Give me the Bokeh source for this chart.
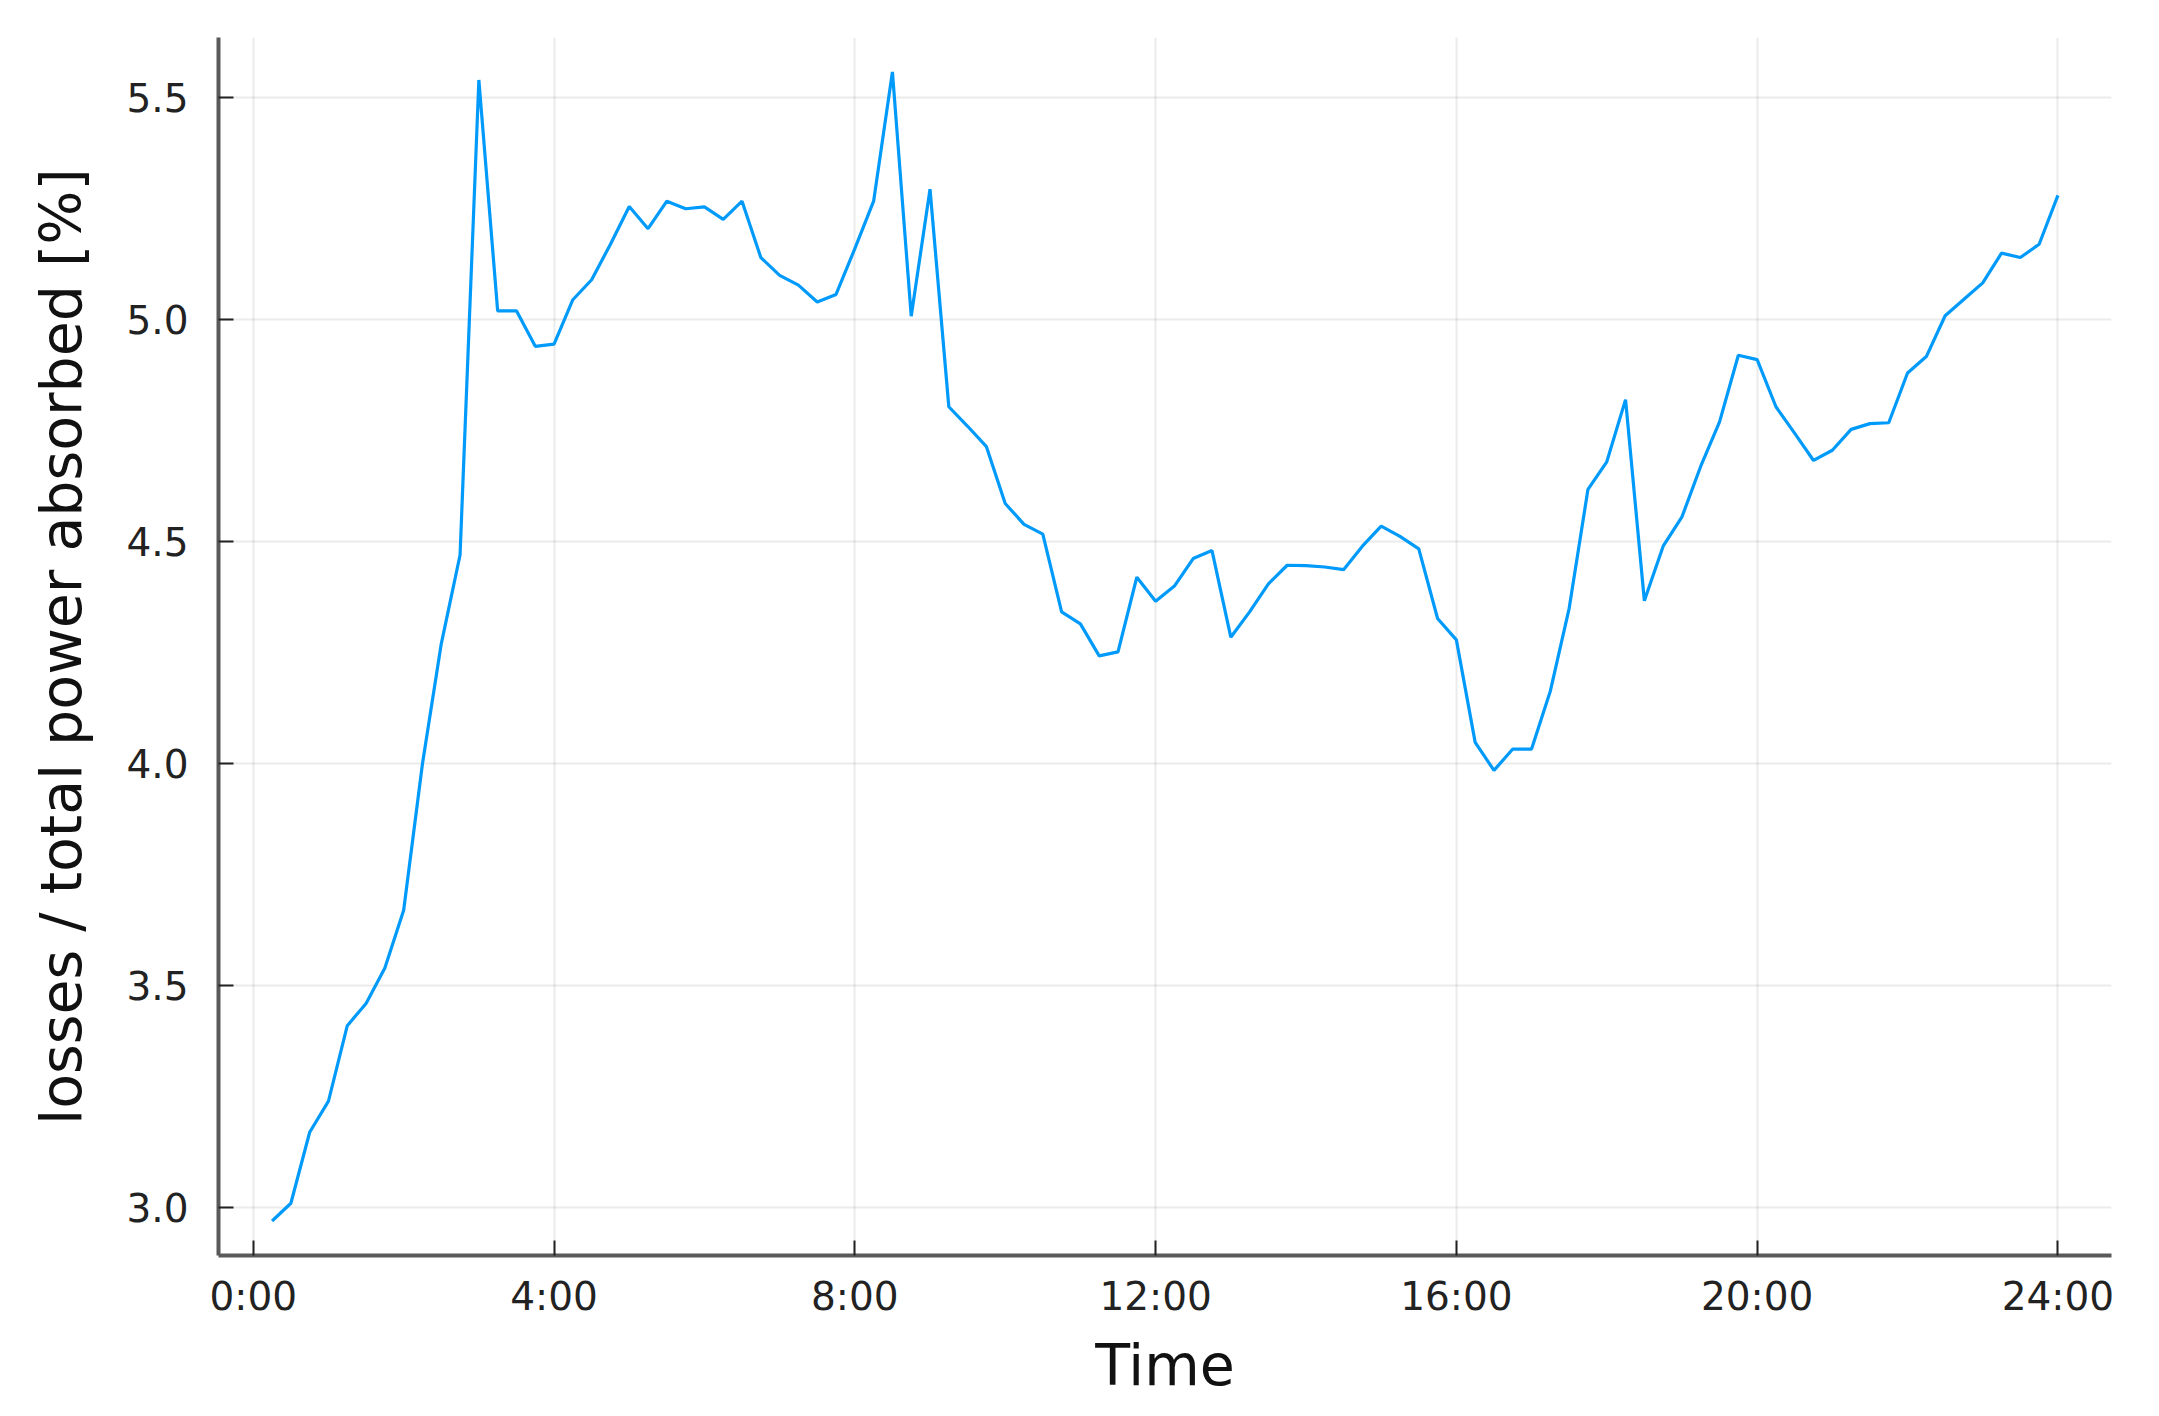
from bokeh.plotting import figure
from bokeh.models import Range1d, FixedTicker
from bokeh.embed import file_html
from bokeh.resources import INLINE

# --- data -------------------------------------------------------------
hours = [0.25, 0.5, 0.75, 1.0, 1.25, 1.5, 1.75, 2.0, 2.25, 2.5, 2.75, 3.0,
         3.25, 3.5, 3.75, 4.0, 4.25, 4.5, 4.75, 5.0, 5.25, 5.5, 5.75, 6.0,
         6.25, 6.5, 6.75, 7.0, 7.25, 7.5, 7.75, 8.0, 8.25, 8.5, 8.75, 9.0,
         9.25, 9.5, 9.75, 10.0, 10.25, 10.5, 10.75, 11.0, 11.25, 11.5, 11.75, 12.0,
         12.25, 12.5, 12.75, 13.0, 13.25, 13.5, 13.75, 14.0, 14.25, 14.5, 14.75, 15.0,
         15.25, 15.5, 15.75, 16.0, 16.25, 16.5, 16.75, 17.0, 17.25, 17.5, 17.75, 18.0,
         18.25, 18.5, 18.75, 19.0, 19.25, 19.5, 19.75, 20.0, 20.25, 20.5, 20.75, 21.0,
         21.25, 21.5, 21.75, 22.0, 22.25, 22.5, 22.75, 23.0, 23.25, 23.5, 23.75, 24.0]

losses_pct = [2.97, 3.01, 3.17, 3.24, 3.41, 3.46, 3.54, 3.67, 4.00, 4.27, 4.47, 5.54,
              5.02, 5.02, 4.94, 4.945, 5.045, 5.09, 5.17, 5.255, 5.205, 5.267, 5.25, 5.254,
              5.226, 5.267, 5.14, 5.10, 5.078, 5.04, 5.057, 5.16, 5.267, 5.558, 5.008, 5.294,
              4.804, 4.76, 4.714, 4.586, 4.539, 4.517, 4.342, 4.315, 4.243, 4.252, 4.42, 4.366,
              4.40, 4.462, 4.48, 4.285, 4.342, 4.405, 4.447, 4.446, 4.443, 4.437, 4.49, 4.535,
              4.512, 4.484, 4.327, 4.279, 4.048, 3.985, 4.033, 4.033, 4.164, 4.35, 4.618, 4.68,
              4.82, 4.367, 4.49, 4.556, 4.67, 4.77, 4.92, 4.91, 4.804, 4.744, 4.683, 4.706,
              4.753, 4.766, 4.768, 4.88, 4.917, 5.009, 5.046, 5.083, 5.15, 5.14, 5.17, 5.28]

x_ticks = [0, 4, 8, 12, 16, 20, 24]
x_tick_labels = ["0:00", "4:00", "8:00", "12:00", "16:00", "20:00", "24:00"]
y_ticks = [3.0, 3.5, 4.0, 4.5, 5.0, 5.5]
y_tick_labels = ["3.0", "3.5", "4.0", "4.5", "5.0", "5.5"]

x_label = "Time"
y_label = "losses / total power absorbed [%]"

# --- ranges (3% padding like Plots.jl) --------------------------------
pad = 0.03
xmin, xmax = min(hours), max(hours)
ymin, ymax = min(losses_pct), max(losses_pct)
xr = Range1d(xmin - pad * (xmax - xmin), xmax + pad * (xmax - xmin))
yr = Range1d(ymin - pad * (ymax - ymin), ymax + pad * (ymax - ymin))

FONT = "DejaVu Sans"

p = figure(width=2143, height=1400, x_range=xr, y_range=yr,
           output_backend="svg", toolbar_location=None,
           min_border_left=218, min_border_right=32,
           min_border_top=37, min_border_bottom=144)
p.outline_line_color = None
p.background_fill_color = "white"
p.border_fill_color = "white"

p.line(hours, losses_pct, line_color="#009AFA", line_width=3.2)

for ax in (p.xaxis[0], p.yaxis[0]):
    ax.axis_line_color = "#5a5a5a"
    ax.axis_line_width = 4
    ax.major_tick_in = 15
    ax.major_tick_out = 0
    ax.major_tick_line_color = "#222222"
    ax.major_tick_line_width = 2
    ax.minor_tick_line_color = None
    ax.major_label_text_font = FONT
    ax.major_label_text_font_size = "39px"
    ax.major_label_text_color = "#222222"
    ax.axis_label_text_font = FONT
    ax.axis_label_text_font_size = "57px"
    ax.axis_label_text_font_style = "normal"
    ax.axis_label_text_color = "#111111"

p.xaxis.ticker = FixedTicker(ticks=x_ticks)
p.xaxis.major_label_overrides = dict(zip(x_ticks, x_tick_labels))
p.yaxis.ticker = FixedTicker(ticks=y_ticks)
p.yaxis.major_label_overrides = dict(zip(y_ticks, y_tick_labels))
p.xaxis.axis_label = x_label
p.yaxis.axis_label = y_label
p.xaxis.major_label_standoff = 18
p.yaxis.major_label_standoff = 30
p.xaxis.axis_label_standoff = 10
p.yaxis.axis_label_standoff = 29

p.xgrid.grid_line_color = "black"
p.xgrid.grid_line_alpha = 0.08
p.xgrid.grid_line_width = 2
p.ygrid.grid_line_color = "black"
p.ygrid.grid_line_alpha = 0.08
p.ygrid.grid_line_width = 2

open("out.html", "w").write(file_html(p, INLINE))
